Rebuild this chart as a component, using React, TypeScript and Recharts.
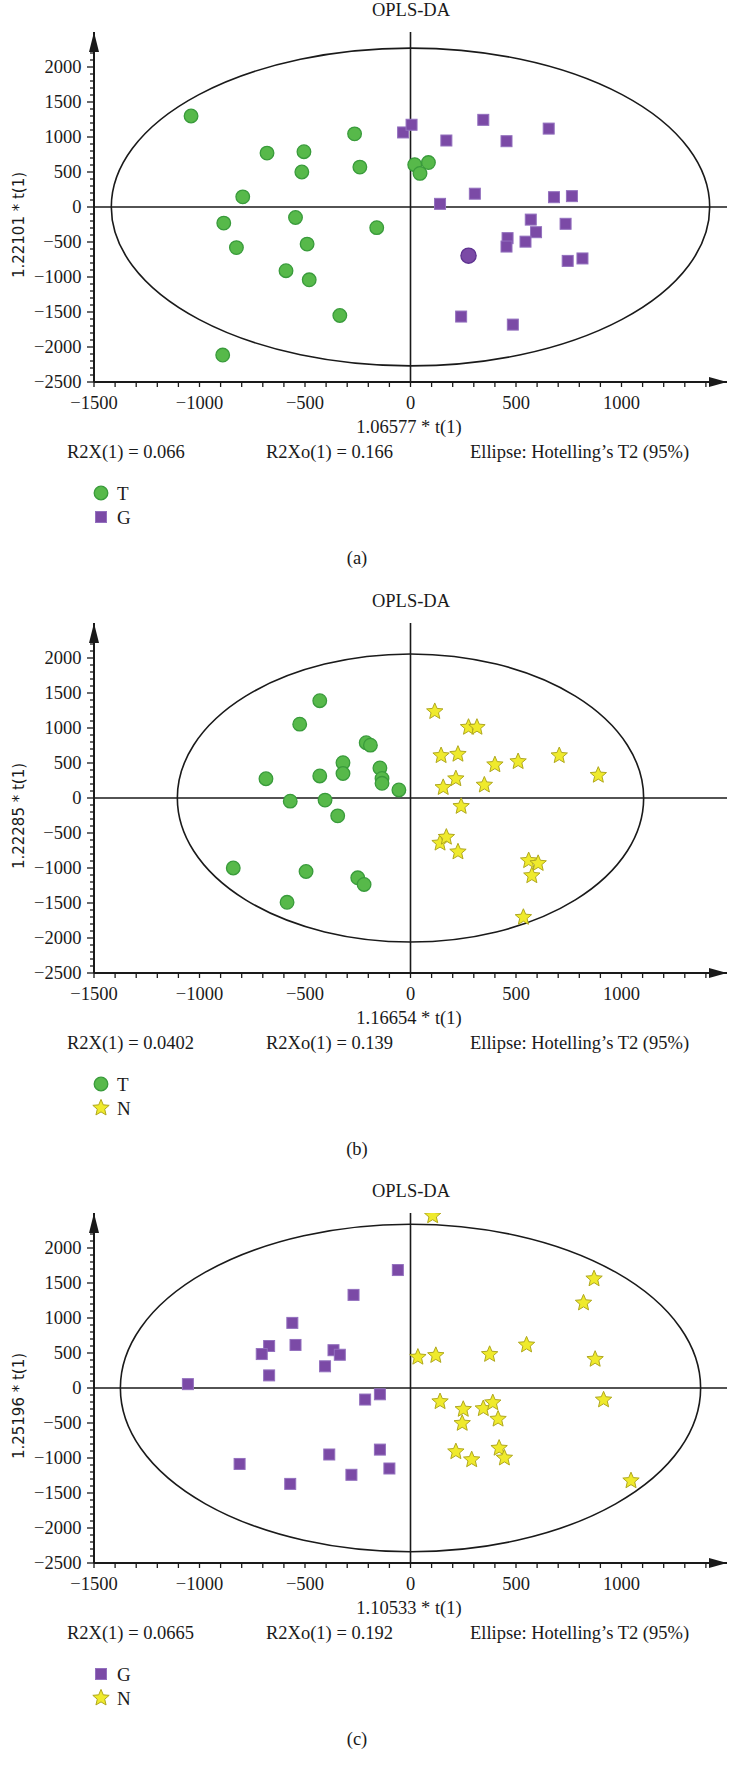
import React from "react";
import {
  ScatterChart,
  Scatter,
  XAxis,
  YAxis,
  ReferenceLine,
  ReferenceArea,
  ReferenceDot,
  Legend,
} from "recharts";

type Pt = [number, number];

// panel (a) – T vs G
const A_T: Pt[] = [
  [-1040, 1300], [-265, 1045], [-680, 770], [-505, 790], [-515, 500],
  [-240, 570], [20, 605], [85, 635], [45, 480], [-795, 145],
  [-885, -230], [-545, -150], [-160, -295], [-825, -580], [-490, -530],
  [-590, -910], [-480, -1040], [-335, -1550], [-890, -2115],
];
const A_G: Pt[] = [
  [-35, 1065], [5, 1175], [170, 950], [345, 1245], [455, 940],
  [655, 1120], [140, 45], [305, 190], [680, 140], [765, 155],
  [570, -180], [735, -240], [595, -360], [460, -445], [545, -495],
  [455, -565], [745, -770], [815, -735], [240, -1565], [485, -1680],
];
const A_G_OUTLIER: Pt[] = [[275, -695]];

// panel (b) – T vs N
const B_T: Pt[] = [
  [-430, 1390], [-525, 1055], [-210, 790], [-190, 755], [-320, 505],
  [-320, 350], [-430, 315], [-685, 275], [-145, 430], [-135, 280],
  [-135, 210], [-55, 115], [-570, -45], [-405, -30], [-345, -255],
  [-840, -1000], [-495, -1050], [-250, -1140], [-220, -1235], [-585, -1490],
];
const B_N: Pt[] = [
  [115, 1235], [275, 1010], [315, 1010], [145, 605], [225, 625],
  [400, 475], [510, 520], [705, 605], [890, 325], [215, 275],
  [155, 150], [350, 185], [240, -120], [140, -645], [170, -560],
  [225, -770], [560, -895], [605, -935], [575, -1110], [535, -1705],
];

// panel (c) – G vs N
const C_G: Pt[] = [
  [-60, 1685], [-270, 1330], [-560, 930], [-670, 600], [-545, 615],
  [-705, 485], [-365, 540], [-335, 475], [-405, 310], [-670, 180],
  [-1055, 55], [-215, -165], [-145, -90], [-385, -950], [-145, -880],
  [-810, -1085], [-280, -1240], [-100, -1150], [-570, -1370],
];
const C_N: Pt[] = [
  [105, 2460], [870, 1560], [820, 1215], [550, 615], [35, 440],
  [120, 465], [375, 480], [875, 410], [140, -195], [915, -170],
  [250, -305], [345, -295], [390, -210], [415, -445], [245, -505],
  [215, -910], [290, -1025], [420, -860], [445, -1000], [1045, -1325],
];

// Hotelling's T2 ellipse half-axes [t1, to1]
const ELLIPSE_A: Pt = [1418, 2270];
const ELLIPSE_B: Pt = [1105, 2058];
const ELLIPSE_C: Pt = [1375, 2340];

const X_LABELS = [-1500, -1000, -500, 0, 500, 1000];
const Y_LABELS = [-2500, -2000, -1500, -1000, -500, 0, 500, 1000, 1500, 2000];

const range = (a: number, b: number, step: number) => {
  const out: number[] = [];
  for (let v = a; v <= b; v += step) out.push(v);
  return out;
};
const X_TICKS = range(-1500, 1400, 100);
const Y_TICKS = range(-2500, 2200, 100);

const SERIF = '"Liberation Serif", "Times New Roman", serif';
const SANS = '"DejaVu Sans", Verdana, sans-serif';
const INK = "#1a1a1a";

const STYLE: Record<string, { fill: string; stroke: string }> = {
  circle: { fill: "#57B94A", stroke: "#399B3B" },
  square: { fill: "#7B4AA6", stroke: "#9370BE" },
  star: { fill: "#EFEA2C", stroke: "#B0A81E" },
  outlier: { fill: "#7B4AA6", stroke: "#5E3390" },
};

const fmt = (v: number) => String(v).replace("-", "\u2212");

function Marker({ cx, cy, kind }: { cx: number; cy: number; kind: string }) {
  const s = STYLE[kind];
  if (!s || cx == null || cy == null) return null;
  if (kind === "circle" || kind === "outlier") {
    return <circle cx={cx} cy={cy} r={kind === "outlier" ? 7.6 : 6.8} fill={s.fill} stroke={s.stroke} strokeWidth={1.3} />;
  }
  if (kind === "square") {
    return <rect x={cx - 5.5} y={cy - 5.5} width={11} height={11} fill={s.fill} stroke={s.stroke} strokeWidth={1} />;
  }
  const pts: string[] = [];
  for (let i = 0; i < 10; i++) {
    const r = i % 2 === 0 ? 8.6 : 3.9;
    const a = -Math.PI / 2 + (i * Math.PI) / 5;
    pts.push(`${cx + r * Math.cos(a)},${cy + r * Math.sin(a)}`);
  }
  return <polygon points={pts.join(" ")} fill={s.fill} stroke={s.stroke} strokeWidth={1} strokeLinejoin="round" />;
}

function XTick(props: any) {
  const { x, y, payload } = props;
  const v = payload.value;
  return (
    <g>
      <line x1={x} y1={y} x2={x} y2={y + 5} stroke={INK} strokeWidth={1.3} />
      {X_LABELS.includes(v) && (
        <text x={x} y={y + 21} textAnchor="middle" dominantBaseline="central" fontSize={18.5} fontFamily={SERIF} fill={INK}>
          {fmt(v)}
        </text>
      )}
    </g>
  );
}

function YTick(props: any) {
  const { x, y, payload } = props;
  const v = payload.value;
  const major = v % 500 === 0;
  return (
    <g>
      <line x1={x - (major ? 7 : 4)} y1={y} x2={x} y2={y} stroke={INK} strokeWidth={1.3} />
      {Y_LABELS.includes(v) && (
        <text x={x - 12.5} y={y} textAnchor="end" dominantBaseline="central" fontSize={18.5} fontFamily={SERIF} fill={INK}>
          {fmt(v)}
        </text>
      )}
    </g>
  );
}

const EllipseShape = (p: any) => (
  <ellipse
    cx={p.x + p.width / 2}
    cy={p.y + p.height / 2}
    rx={Math.abs(p.width) / 2}
    ry={Math.abs(p.height) / 2}
    fill="none"
    stroke={INK}
    strokeWidth={1.6}
  />
);

const ArrowRight = (p: any) => (
  <polygon points={`${p.cx},${p.cy} ${p.cx - 18},${p.cy - 5} ${p.cx - 18},${p.cy + 5}`} fill={INK} />
);
const ArrowUp = (p: any) => (
  <polygon points={`${p.cx},${p.cy} ${p.cx - 5},${p.cy + 20} ${p.cx + 5},${p.cy + 20}`} fill={INK} />
);

type Series = { name: string; data: Pt[]; kind: string };
type PanelCfg = {
  tag: string;
  top: number;
  xLabel: string;
  yLabel: string;
  r2x: string;
  r2xo: string;
  ellipse: Pt;
  series: Series[];
};

const PANELS: PanelCfg[] = [
  {
    tag: "(a)", top: 0, xLabel: "1.06577 * t(1)", yLabel: "1.22101 * t(1)",
    r2x: "R2X(1) = 0.066", r2xo: "R2Xo(1) = 0.166", ellipse: ELLIPSE_A,
    series: [
      { name: "T", data: A_T, kind: "circle" },
      { name: "G", data: A_G, kind: "square" },
      { name: "G outlier", data: A_G_OUTLIER, kind: "outlier" },
    ],
  },
  {
    tag: "(b)", top: 591, xLabel: "1.16654 * t(1)", yLabel: "1.22285 * t(1)",
    r2x: "R2X(1) = 0.0402", r2xo: "R2Xo(1) = 0.139", ellipse: ELLIPSE_B,
    series: [
      { name: "T", data: B_T, kind: "circle" },
      { name: "N", data: B_N, kind: "star" },
    ],
  },
  {
    tag: "(c)", top: 1181, xLabel: "1.10533 * t(1)", yLabel: "1.25196 * t(1)",
    r2x: "R2X(1) = 0.0665", r2xo: "R2Xo(1) = 0.192", ellipse: ELLIPSE_C,
    series: [
      { name: "G", data: C_G, kind: "square" },
      { name: "N", data: C_N, kind: "star" },
    ],
  },
];

const txt = (left: number, top: number, center = false): React.CSSProperties => ({
  position: "absolute",
  left,
  top,
  transform: center ? "translate(-50%, -50%)" : "translateY(-50%)",
  fontFamily: SERIF,
  fontSize: 18.5,
  color: INK,
  lineHeight: 1,
  whiteSpace: "nowrap",
});

function Panel({ cfg }: { cfg: PanelCfg }) {
  const [rx, ry] = cfg.ellipse;
  const order = (name: string) => cfg.series.findIndex((s) => s.name === name);
  const renderLegend = (props: any) => {
    const items = (props.payload || [])
      .filter((e: any) => order(e.value) >= 0 && cfg.series[order(e.value)].kind !== "outlier")
      .sort((a: any, b: any) => order(a.value) - order(b.value));
    return (
      <div>
        {items.map((e: any) => (
          <div key={e.value} style={{ height: 24, display: "flex", alignItems: "center" }}>
            <svg width={20} height={20}>
              <Marker cx={10} cy={10} kind={cfg.series[order(e.value)].kind} />
            </svg>
            <span style={{ marginLeft: 6, fontFamily: SERIF, fontSize: 19, color: INK, lineHeight: 1 }}>{e.value}</span>
          </div>
        ))}
      </div>
    );
  };
  return (
    <div style={{ position: "absolute", top: cfg.top, left: 0, width: 729, height: 590 }}>
      <div style={txt(411, 10, true)}>OPLS-DA</div>
      <ScatterChart width={729} height={590} margin={{ top: 32, right: 2, bottom: 178, left: 34 }}>
        <XAxis
          type="number"
          dataKey="x"
          domain={[-1500, 1500]}
          ticks={X_TICKS}
          interval={0}
          tickSize={0}
          tickMargin={0}
          tickLine={false}
          tick={(p: any) => <XTick {...p} />}
          axisLine={{ stroke: INK, strokeWidth: 2 }}
          height={30}
          allowDataOverflow
        />
        <YAxis
          type="number"
          dataKey="y"
          domain={[-2500, 2500]}
          ticks={Y_TICKS}
          interval={0}
          tickSize={0}
          tickMargin={0}
          tickLine={false}
          tick={(p: any) => <YTick {...p} />}
          axisLine={{ stroke: INK, strokeWidth: 2 }}
          width={60}
          allowDataOverflow
        />
        <ReferenceArea x1={-rx} x2={rx} y1={-ry} y2={ry} shape={EllipseShape} ifOverflow="visible" />
        <ReferenceLine x={0} stroke={INK} strokeWidth={1.6} />
        <ReferenceLine y={0} stroke={INK} strokeWidth={1.6} />
        {cfg.series.map((s) => (
          <Scatter
            key={s.name}
            name={s.name}
            data={s.data.map(([x, y]) => ({ x, y }))}
            fill={STYLE[s.kind].fill}
            legendType={s.kind === "outlier" ? "none" : (s.kind as any)}
            shape={(p: any) => <Marker cx={p.cx} cy={p.cy} kind={s.kind} />}
            isAnimationActive={false}
          />
        ))}
        <ReferenceDot x={1500} y={-2500} shape={ArrowRight} ifOverflow="visible" />
        <ReferenceDot x={-1500} y={2500} shape={ArrowUp} ifOverflow="visible" />
        <Legend
          layout="horizontal"
          verticalAlign="middle"
          align="center"
          content={renderLegend}
          wrapperStyle={{ left: 91, top: 481, width: "auto", bottom: "auto" }}
        />
      </ScatterChart>
      <div
        style={{
          position: "absolute",
          left: 19,
          top: 225,
          transform: "translate(-50%, -50%) rotate(-90deg)",
          fontFamily: SANS,
          fontSize: 15,
          color: INK,
          whiteSpace: "nowrap",
          lineHeight: 1,
        }}
      >
        {cfg.yLabel}
      </div>
      <div style={txt(409, 427, true)}>{cfg.xLabel}</div>
      <div style={txt(67, 452)}>{cfg.r2x}</div>
      <div style={txt(266, 452)}>{cfg.r2xo}</div>
      <div style={txt(470, 452)}>Ellipse: Hotelling’s T2 (95%)</div>
      <div style={txt(357, 558, true)}>{cfg.tag}</div>
    </div>
  );
}

export default function App() {
  return (
    <div style={{ position: "relative", width: 729, height: 1769, background: "#fff", overflow: "hidden" }}>
      <style>{"body{margin:0}"}</style>
      {PANELS.map((p) => (
        <Panel key={p.tag} cfg={p} />
      ))}
    </div>
  );
}
